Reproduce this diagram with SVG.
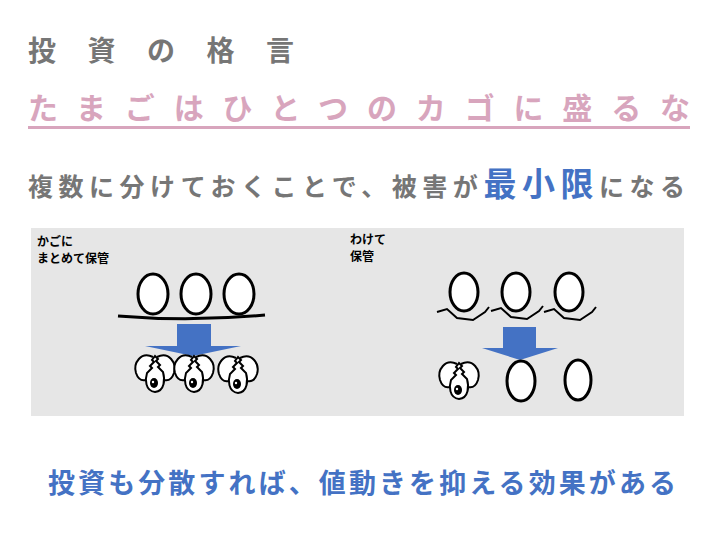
<svg xmlns="http://www.w3.org/2000/svg" width="720" height="540" viewBox="0 0 720 540">
<defs>
<style>
.t{font-family:"Noto Sans CJK JP",sans-serif;font-weight:bold}
.egg{fill:#fff;stroke:#000;stroke-width:3}
.ln{fill:none;stroke:#000;stroke-width:2}
.arr{fill:#4472c4}
.lbl{font-family:"Noto Sans CJK JP",sans-serif;font-weight:bold;font-size:12px;fill:#000}
</style>
<g id="brk">
<path d="M-2,-14 C-14,-20 -22,-8 -19,2 C-17,8 -13,10 -9,9 M2,-14 C14,-20 22,-8 19,2 C17,8 13,10 9,9" fill="#fff" stroke="#000" stroke-width="2"/>
<path d="M0,-15 l-3,4 l2,2 l-4,4 l2,2 l-5,5 C-10,8 -10,20 0,21 C10,20 10,8 8,1 l-5,-5 l2,-2 l-4,-4 l2,-2 z" fill="#fff" stroke="#000" stroke-width="2"/>
<ellipse cx="-1" cy="12" rx="4" ry="5"/>
<circle cx="-2" cy="11" r="1.2" fill="#fff"/>
</g>
</defs>
<rect width="720" height="540" fill="#fff"/>
<g id="title"><text class="t" x="28" y="61" font-size="28" fill="#767676" textLength="266" lengthAdjust="spacing">投資の格言</text></g>
<g id="maxim"><text class="t" x="28" y="119" font-size="30" fill="#d8a5bd" textLength="662" lengthAdjust="spacing">たまごはひとつのカゴに盛るな</text>
<rect x="28" y="126" width="662" height="3" fill="#d8a5bd"/></g>
<g id="line3"><text class="t" x="28" y="196" font-size="25" fill="#767676" textLength="657" lengthAdjust="spacing">複数に分けておくことで、被害が<tspan fill="#4472c4" font-size="33">最小限</tspan>になる</text></g>
<g id="left">
<rect x="31" y="228" width="314" height="188" fill="#e6e6e6"/>
<text class="lbl" x="37" y="246">かごに</text>
<text class="lbl" x="37" y="263">まとめて保管</text>
<ellipse class="egg" cx="153" cy="294" rx="15" ry="20"/>
<ellipse class="egg" cx="196" cy="294" rx="15" ry="20"/>
<ellipse class="egg" cx="239" cy="294" rx="15" ry="20"/>
<path d="M118,316 Q190,322 265,315" fill="none" stroke="#000" stroke-width="3"/>
<path class="arr" d="M177,324 h34 v22 h30 l-48,10 l-48,-10 h32 z"/>
<use href="#brk" x="155" y="371"/>
<use href="#brk" x="194" y="371"/>
<use href="#brk" x="238" y="372"/>
</g>
<g id="right">
<rect x="345" y="228" width="339" height="188" fill="#e6e6e6"/>
<text class="lbl" x="350" y="244">わけて</text>
<text class="lbl" x="350" y="261">保管</text>
<path class="ln" d="M437,312 l10,-3 l10,9 l16,2 l12,-8 l4,-5"/>
<path class="ln" d="M491,311 l10,-3 l10,9 l16,2 l12,-8 l4,-5"/>
<path class="ln" d="M544,312 l10,-3 l10,9 l16,2 l12,-8 l4,-5"/>
<ellipse class="egg" cx="464" cy="292" rx="14" ry="19"/>
<ellipse class="egg" cx="516" cy="292" rx="14" ry="19"/>
<ellipse class="egg" cx="569" cy="292" rx="14" ry="19"/>
<path class="arr" d="M503,327 h33 v21 h22 l-38,12 l-38,-12 h21 z"/>
<use href="#brk" x="459" y="378"/>
<ellipse class="egg" cx="521" cy="381" rx="14" ry="20"/>
<ellipse class="egg" cx="578" cy="380" rx="13" ry="20"/>
</g>
<g id="bottom"><text class="t" x="48" y="493" font-size="27" fill="#4472c4" textLength="628" lengthAdjust="spacing">投資も分散すれば、値動きを抑える効果がある</text></g>
<g id="connectors"/>
</svg>
